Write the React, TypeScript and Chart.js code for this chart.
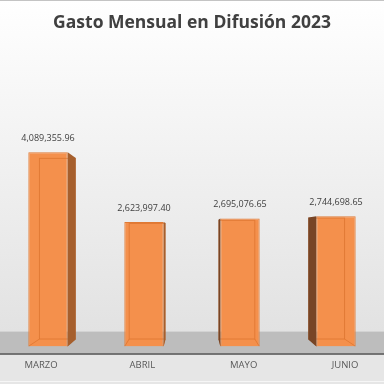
import React, { useEffect, useRef } from "react";
import { Chart, registerables } from "chart.js";

Chart.register(...registerables);

const chartTitle = "Gasto Mensual en Difusión 2023";
const categories = ["MARZO", "ABRIL", "MAYO", "JUNIO"];
const values = [4089355.96, 2623997.4, 2695076.65, 2744698.65];
const yMax = 5970000;

const fmt = (v: number) =>
  v.toLocaleString("en-US", { minimumFractionDigits: 2, maximumFractionDigits: 2 });

const backgroundPlugin = {
  id: "bgFloor",
  beforeDraw(chart: any) {
    const { ctx, width, height, chartArea } = chart;
    const b = chartArea.bottom;
    ctx.save();
    const g = ctx.createLinearGradient(0, 0, 0, b - 15);
    g.addColorStop(0, "#ffffff");
    g.addColorStop(1, "#e2e2e2");
    ctx.fillStyle = g;
    ctx.fillRect(0, 0, width, height);
    // floor band
    ctx.fillStyle = "#bdbdbd";
    ctx.fillRect(0, b - 15, width, 22);
    // below floor
    ctx.fillStyle = "#e6e6e6";
    ctx.fillRect(0, b + 7, width, height - b - 7);
    ctx.strokeStyle = "#4f4f4f";
    ctx.lineWidth = 1.5;
    ctx.beginPath();
    ctx.moveTo(0, b + 7.5);
    ctx.lineTo(width, b + 7.5);
    ctx.stroke();
    ctx.strokeStyle = "#f6f6f6";
    ctx.lineWidth = 1;
    ctx.beginPath();
    ctx.moveTo(0, height - 2.5);
    ctx.lineTo(width, height - 2.5);
    ctx.stroke();
    ctx.strokeStyle = "#c4c4c4";
    ctx.beginPath();
    ctx.moveTo(0, 0.5);
    ctx.lineTo(width, 0.5);
    ctx.stroke();
    ctx.restore();
  },
};

const bar3dPlugin = {
  id: "bar3d",
  afterDatasetsDraw(chart: any) {
    const { ctx, chartArea } = chart;
    const meta = chart.getDatasetMeta(0);
    const vx = (chartArea.left + chartArea.right) / 2;
    const vy = chartArea.bottom - 109;
    const k = 0.065;
    ctx.save();
    meta.data.forEach((bar: any, i: number) => {
      const p = bar.getProps(["x", "y", "base", "width"], true);
      const L = p.x - p.width / 2;
      const R = p.x + p.width / 2;
      const T = p.y;
      const B = p.base;
      const bx = (v: number) => v + (vx - v) * k;
      const by = (v: number) => v + (vy - v) * k;
      const bL = bx(L), bR = bx(R), bT = by(T), bB = by(B);
      // back edges seen through the front
      ctx.strokeStyle = "rgba(215,108,38,0.6)";
      ctx.lineWidth = 1;
      ctx.strokeRect(bL + 0.5, bT + 0.5, bR - bL - 1, bB - bT - 1);
      ctx.beginPath();
      ctx.moveTo(L + 0.5, B - 0.5);
      ctx.lineTo(bL + 0.5, bB - 0.5);
      ctx.moveTo(R - 0.5, B - 0.5);
      ctx.lineTo(bR - 0.5, bB - 0.5);
      ctx.stroke();
      // side face
      ctx.beginPath();
      if (p.x < vx) {
        ctx.moveTo(R, T);
        ctx.lineTo(bR, bT);
        ctx.lineTo(bR, bB);
        ctx.lineTo(R, B);
        ctx.fillStyle = "#a65f2d";
      } else {
        ctx.moveTo(L, T);
        ctx.lineTo(bL, bT);
        ctx.lineTo(bL, bB);
        ctx.lineTo(L, B);
        ctx.fillStyle = "#774526";
      }
      ctx.closePath();
      ctx.fill();
      // value label
      ctx.fillStyle = "#404040";
      ctx.font = "9px 'Open Sans'";
      ctx.textAlign = "center";
      ctx.textBaseline = "middle";
      ctx.fillText(fmt(values[i]), p.x, T - 14);
    });
    ctx.restore();
  },
};

export default function App() {
  const ref = useRef<HTMLCanvasElement | null>(null);
  useEffect(() => {
    document.body.style.margin = "0";
    const chart = new Chart(ref.current as HTMLCanvasElement, {
      type: "bar",
      data: {
        labels: categories,
        datasets: [
          {
            data: values,
            backgroundColor: "#f4904c",
            borderColor: "#e07a35",
            borderWidth: 1,
            barPercentage: 0.41,
            categoryPercentage: 1,
          },
        ],
      },
      options: {
        animation: false,
        responsive: false,
        layout: { padding: { top: 0, bottom: 0, left: 0, right: 0 } },
        plugins: {
          legend: { display: false },
          tooltip: { enabled: false },
          title: {
            display: true,
            text: chartTitle,
            color: "#404040",
            font: { family: "'Open Sans'", size: 17.5, weight: "bold" },
            padding: { top: 13, bottom: 29 },
          },
        },
        scales: {
          x: { display: false, offset: true },
          xl: {
            type: "linear",
            position: "bottom",
            offset: false,
            min: -0.4046,
            max: 3.385,
            grid: { display: false, drawTicks: false, offset: false },
            border: { display: false },
            afterBuildTicks: (s: any) => {
              s.ticks = categories.map((_, i) => ({ value: i }));
            },
            ticks: {
              autoSkip: false,
              maxRotation: 0,
              padding: 13,
              color: "#595959",
              font: { family: "'Open Sans'", size: 9.5 },
              callback: (v: any) => categories[v] ?? "",
            },
          },
          y: { display: false, min: 0, max: yMax },
        },
      },
      plugins: [backgroundPlugin, bar3dPlugin],
    } as any);
    return () => chart.destroy();
  }, []);
  return (
    <div style={{ width: 384, height: 384 }}>
      <canvas ref={ref} width={384} height={384} />
    </div>
  );
}
